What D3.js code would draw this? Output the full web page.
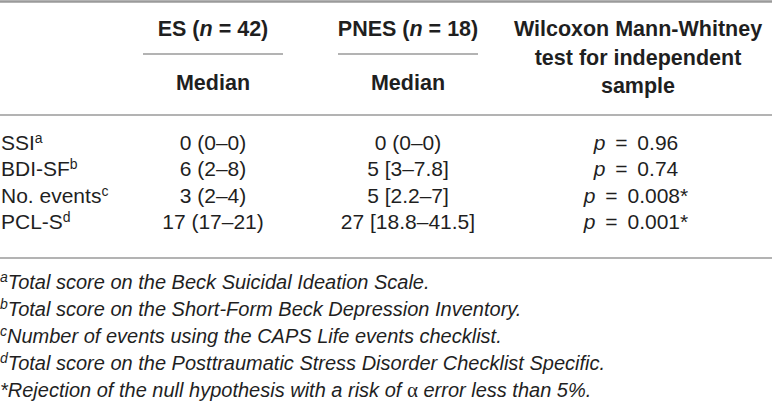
<!DOCTYPE html>
<html>
<head>
<meta charset="utf-8">
<script src="https://cdn.jsdelivr.net/npm/d3@7"></script>
<style>
	html, body { margin: 0; padding: 0; background: white; }
	#outer { width: 772px; height: 405px; }
</style>
</head>
<body>
<div id="outer"></div>
<script>
////////// Data //////////
const measures = ['SSI', 'BDI-SF', 'No. events', 'PCL-S'];
const measureNotes = ['a', 'b', 'c', 'd'];
const esMedians = ['0 (0–0)', '6 (2–8)', '3 (2–4)', '17 (17–21)'];
const pnesMedians = ['0 (0–0)', '5 [3–7.8]', '5 [2.2–7]', '27 [18.8–41.5]'];
const pValues = ['0.96', '0.74', '0.008', '0.001'];
const pStars = ['', '', '*', '*'];
const groupNames = ['ES', 'PNES'];
const groupSizes = [42, 18];
const testTitle = ['Wilcoxon Mann-Whitney', 'test for independent', 'sample'];
const footnoteMarks = ['a', 'b', 'c', 'd', '*'];
const footnoteTexts = [
	'Total score on the Beck Suicidal Ideation Scale.',
	'Total score on the Short-Form Beck Depression Inventory.',
	'Number of events using the CAPS Life events checklist.',
	'Total score on the Posttraumatic Stress Disorder Checklist Specific.',
	'Rejection of the null hypothesis with a risk of α error less than 5%.'
];

function drawTable () {

	////////// Hard Coded Defs //////////
	const width = 772;
	const height = 405;
	const fontFamily = '"Liberation Sans", Arial, Helvetica, sans-serif';
	const textColor = '#1f1f1f';
	const ruleColor = '#9a9a9a';
	const headFont = `bold 21.5px ${fontFamily}`;
	const bodyFont = `21px ${fontFamily}`;
	const noteFont = `italic 20px ${fontFamily}`;
	const supSize = '14px';

	// ********************************************* SCALES ******************************************************* //
	const colX = d3.scaleOrdinal()
		.domain(['label', 'es', 'pnes', 'test'])
		.range([1, 213, 408, 638]);
	const groupKeys = ['es', 'pnes'];
	const rowY = d3.scalePoint()
		.domain(measures)
		.range([150, 229]);
	const noteY = d3.scalePoint()
		.domain(d3.range(footnoteTexts.length))
		.range([289, 397]);
	const titleY = d3.scalePoint()
		.domain(d3.range(testTitle.length))
		.range([36, 93]);

	// ********************************************* SVG ******************************************************* //
	const svg = d3.select('#outer').append('svg')
		.attr('width', width)
		.attr('height', height)
		.style('display', 'block');

	const rules = svg.append('g').attr('class', 'rules').attr('stroke', ruleColor);
	rules.append('line').attr('x1', 0).attr('x2', width).attr('y1', 1.5).attr('y2', 1.5).attr('stroke-width', 2.5);
	rules.append('line').attr('x1', 0).attr('x2', width).attr('y1', 115).attr('y2', 115).attr('stroke-width', 1.5);
	rules.append('line').attr('x1', 0).attr('x2', width).attr('y1', 258).attr('y2', 258).attr('stroke-width', 1.5);
	// spanner rules under group headings
	rules.selectAll('.spanner')
		.data(groupKeys)
		.join('line')
		.attr('class', 'spanner')
		.attr('x1', d => colX(d) - 70)
		.attr('x2', d => colX(d) + 70)
		.attr('y1', 54)
		.attr('y2', 54)
		.attr('stroke-width', 1.5);

	// ********************************************* HEADER ******************************************************* //
	const header = svg.append('g').attr('class', 'header').style('font', headFont).attr('fill', textColor);
	const groupHead = header.selectAll('.groupHead')
		.data(groupKeys)
		.join('text')
		.attr('class', 'groupHead')
		.attr('x', d => colX(d))
		.attr('y', 36)
		.attr('text-anchor', 'middle');
	groupHead.append('tspan').text((d, i) => groupNames[i] + ' (');
	groupHead.append('tspan').attr('font-style', 'italic').text('n');
	groupHead.append('tspan').text((d, i) => ' = ' + groupSizes[i] + ')');

	header.selectAll('.medianHead')
		.data(groupKeys)
		.join('text')
		.attr('class', 'medianHead')
		.attr('x', d => colX(d))
		.attr('y', 90)
		.attr('text-anchor', 'middle')
		.text('Median');

	header.selectAll('.testHead')
		.data(testTitle)
		.join('text')
		.attr('class', 'testHead')
		.attr('x', colX('test'))
		.attr('y', (d, i) => titleY(i))
		.attr('text-anchor', 'middle')
		.text(d => d);

	// ********************************************* BODY ******************************************************* //
	const body = svg.append('g').attr('class', 'body').style('font', bodyFont).attr('fill', textColor);
	const rows = body.selectAll('.row')
		.data(measures)
		.join('g')
		.attr('class', 'row')
		.attr('transform', d => `translate(0, ${rowY(d)})`);

	const label = rows.append('text').attr('x', colX('label'));
	label.append('tspan').text(d => d);
	label.append('tspan')
		.attr('dy', -7)
		.style('font-size', supSize)
		.text((d, i) => measureNotes[i]);

	rows.append('text')
		.attr('x', colX('es'))
		.attr('text-anchor', 'middle')
		.text((d, i) => esMedians[i]);
	rows.append('text')
		.attr('x', colX('pnes'))
		.attr('text-anchor', 'middle')
		.text((d, i) => pnesMedians[i]);

	const pText = rows.append('text')
		.attr('x', colX('test') - 2)
		.attr('text-anchor', 'middle')
		.attr('word-spacing', 4);
	pText.append('tspan').attr('font-style', 'italic').text('p');
	pText.append('tspan').text((d, i) => ' = ' + pValues[i] + pStars[i]);

	// ********************************************* FOOTNOTES ******************************************************* //
	const notes = svg.append('g').attr('class', 'notes').style('font', noteFont).attr('fill', textColor);
	const note = notes.selectAll('text')
		.data(footnoteTexts)
		.join('text')
		.attr('x', 0)
		.attr('y', (d, i) => noteY(i));
	note.append('tspan')
		.attr('dy', (d, i) => footnoteMarks[i] === '*' ? 0 : -7)
		.style('font-size', (d, i) => footnoteMarks[i] === '*' ? '20px' : supSize)
		.text((d, i) => footnoteMarks[i]);
	// split on alpha so it can be set upright in a serif face
	note.each(function (d, i) {
		const parts = d.split('α');
		const el = d3.select(this);
		parts.forEach((part, k) => {
			const t = el.append('tspan').text(part);
			if (k === 0 && footnoteMarks[i] !== '*') t.attr('dy', 7);
			if (k < parts.length - 1) {
				el.append('tspan')
					.style('font-style', 'normal')
					.style('font-family', '"Liberation Serif", "DejaVu Serif", serif')
					.style('font-size', '21px')
					.text('α');
			}
		});
	});
}

drawTable();
</script>
</body>
</html>
